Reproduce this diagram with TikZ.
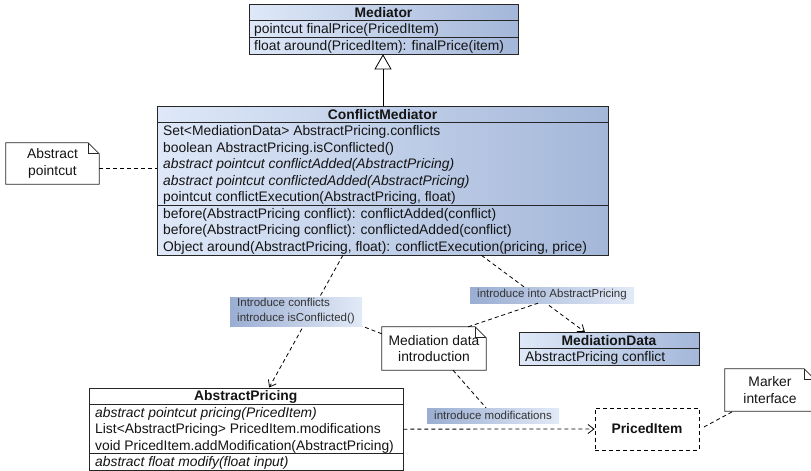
\documentclass[tikz,border=0pt]{standalone}
\usepackage{fontspec}
\setmainfont{Liberation Sans}
\usetikzlibrary{arrows.meta,calc}
\definecolor{boxL}{RGB}{222,232,248}
\definecolor{boxR}{RGB}{164,183,217}
\definecolor{tagL}{RGB}{154,174,210}
\definecolor{tagR}{RGB}{226,234,247}
\definecolor{ink}{RGB}{20,20,20}
% outline of a UML note with a folded top-right corner
\newcommand\foldnote[1]{%
  \draw[outline] (#1.south west) -- (#1.north west) -- ([xshift=-11pt]#1.north east)
    -- ([yshift=-11pt]#1.north east) -- (#1.south east) -- cycle;
  \draw[outline] ([xshift=-11pt]#1.north east) -- ([xshift=-11pt,yshift=-11pt]#1.north east)
    -- ([yshift=-11pt]#1.north east);}
\begin{document}
\begin{tikzpicture}[x=1pt,y=-1pt,
  every node/.style={inner sep=0pt, text=ink, font=\fontsize{13.85}{16.5}\selectfont},
  outline/.style={draw=black!85, line width=0.8pt},
  classbox/.style={outline, left color=boxL, right color=boxR, anchor=north west},
  plainbox/.style={outline, fill=white, anchor=north west},
  rule/.style={draw=black!85, line width=0.8pt},
  row/.style={anchor=base west},
  title/.style={anchor=base, font=\fontsize{13.85}{16.5}\selectfont\bfseries},
  notebox/.style={fill=white, align=center},
  tag/.style={left color=tagL, right color=tagR, align=left,
    font=\fontsize{11.5}{15}\selectfont, text=black!80},
  link/.style={draw=black, line width=0.8pt, dash pattern=on 4pt off 3pt},
  dep/.style={link, -{Straight Barb[length=6pt,width=9pt]}},
  inherit/.style={draw=black, line width=0.8pt,
    -{Triangle[open,length=15pt,width=17pt,fill=white]}}
]
\useasboundingbox (0,0) rectangle (811,471);
\fill[white] (0,0) rectangle (811,471);

% ---------- Mediator ----------
\node[classbox, minimum width=269pt, minimum height=49.5pt] (med) at (249,4) {};
\draw[rule] ([yshift=-16.5pt]med.north west) -- ([yshift=-16.5pt]med.north east);
\draw[rule] ([yshift=-33pt]med.north west) -- ([yshift=-33pt]med.north east);
\node[title] (med-name) at (383.5,17.15) {Mediator};
\node[row] (med-r1) at (254,33.65) {pointcut finalPrice(PricedItem)};
\node[row] (med-r2) at (254,50.15) {float around(PricedItem): finalPrice(item)};

% ---------- ConflictMediator ----------
\node[classbox, minimum width=451pt, minimum height=148.5pt] (cm) at (157,106) {};
\draw[rule] ([yshift=-16.5pt]cm.north west) -- ([yshift=-16.5pt]cm.north east);
\draw[rule] ([yshift=-99pt]cm.north west) -- ([yshift=-99pt]cm.north east);
\node[title] (cm-name) at (382.5,119.15) {ConflictMediator};
\node[row] (cm-r1) at (163,135.65) {Set<MediationData> AbstractPricing.conflicts};
\node[row] (cm-r2) at (163,152.15) {boolean AbstractPricing.isConflicted()};
\node[row] (cm-r3) at (163,168.65) {\itshape abstract pointcut conflictAdded(AbstractPricing)};
\node[row] (cm-r4) at (163,185.15) {\itshape abstract pointcut conflictedAdded(AbstractPricing)};
\node[row] (cm-r5) at (163,201.65) {pointcut conflictExecution(AbstractPricing, float)};
\node[row] (cm-r6) at (163,218.15) {before(AbstractPricing conflict): conflictAdded(conflict)};
\node[row] (cm-r7) at (163,234.65) {before(AbstractPricing conflict): conflictedAdded(conflict)};
\node[row] (cm-r8) at (163,251.15) {Object around(AbstractPricing, float): conflictExecution(pricing, price)};

% ---------- AbstractPricing ----------
\node[plainbox, minimum width=313.5pt, minimum height=82.5pt] (ap) at (89,387.5) {};
\draw[rule] ([yshift=-16.5pt]ap.north west) -- ([yshift=-16.5pt]ap.north east);
\draw[rule] ([yshift=-66pt]ap.north west) -- ([yshift=-66pt]ap.north east);
\node[title] (ap-name) at (245.75,400.65) {AbstractPricing};
\node[row] (ap-r1) at (95,417.15) {\itshape abstract pointcut pricing(PricedItem)};
\node[row] (ap-r2) at (95,433.65) {List<AbstractPricing> PricedItem.modifications};
\node[row] (ap-r3) at (95,450.15) {void PricedItem.addModification(AbstractPricing)};
\node[row] (ap-r4) at (95,466.65) {\itshape abstract float modify(float input)};

% ---------- MediationData ----------
\node[classbox, minimum width=180pt, minimum height=33pt] (md) at (519,332) {};
\draw[rule] ([yshift=-16.5pt]md.north west) -- ([yshift=-16.5pt]md.north east);
\node[title] (md-name) at (609,345.15) {MediationData};
\node[row] (md-r1) at (525,361.65) {AbstractPricing conflict};

% ---------- PricedItem (marker interface) ----------
\node[draw=black, line width=0.8pt, dash pattern=on 4pt off 3pt, fill=white,
  minimum width=104pt, minimum height=42pt,
  font=\fontsize{13.85}{16.5}\selectfont\bfseries] (pi) at (647,429) {PricedItem};

% ---------- relations ----------
\coordinate (gen) at (383,0);
\draw[inherit] (gen |- cm.north) -- (gen |- med.south);
\draw[dep] ([xshift=-40pt]cm.south) -- ([xshift=23pt]ap.north);
\draw[dep] ([xshift=98.5pt]cm.south) -- ([xshift=-24.5pt]md.north);
\draw[dep] (ap.east) -- (pi.west);

% ---------- relation labels ----------
\node[tag, minimum width=132pt, minimum height=29pt] (t1) at (296,311.5)
  {Introduce conflicts\\introduce isConflicted()};
\node[tag, minimum width=164pt, minimum height=16pt] (t2) at (552,295)
  {introduce into AbstractPricing};
\node[tag, minimum width=132pt, minimum height=15pt] (t3) at (493,415.5)
  {introduce modifications};

% ---------- notes ----------
\node[notebox, minimum width=93pt, minimum height=41pt] (np) at (52.5,163.5) {Abstract\\pointcut};
\foldnote{np}
\node[notebox, minimum width=104pt, minimum height=43pt] (nm) at (434,348.5) {Mediation data\\introduction};
\foldnote{nm}
\node[notebox, minimum width=90pt, minimum height=42pt] (nk) at (770,390) {Marker\\interface};
\foldnote{nk}

% ---------- note attachments ----------
\draw[link] ([yshift=-4.5pt]np.east) -- ([yshift=-4.5pt]np.east -| cm.west);
\draw[link] ([yshift=-7pt]nm.north west) -- (t1.south east);
\draw[link] ([xshift=-18pt]nm.north east) -- ([xshift=-14pt]t2.south);
\draw[link] ([xshift=19pt]nm.south) -- ([xshift=-7pt]t3.north);
\draw[link] ([xshift=4.5pt,yshift=2pt]pi.east) -- ([xshift=8.5pt]nk.south west);
\end{tikzpicture}
\end{document}
